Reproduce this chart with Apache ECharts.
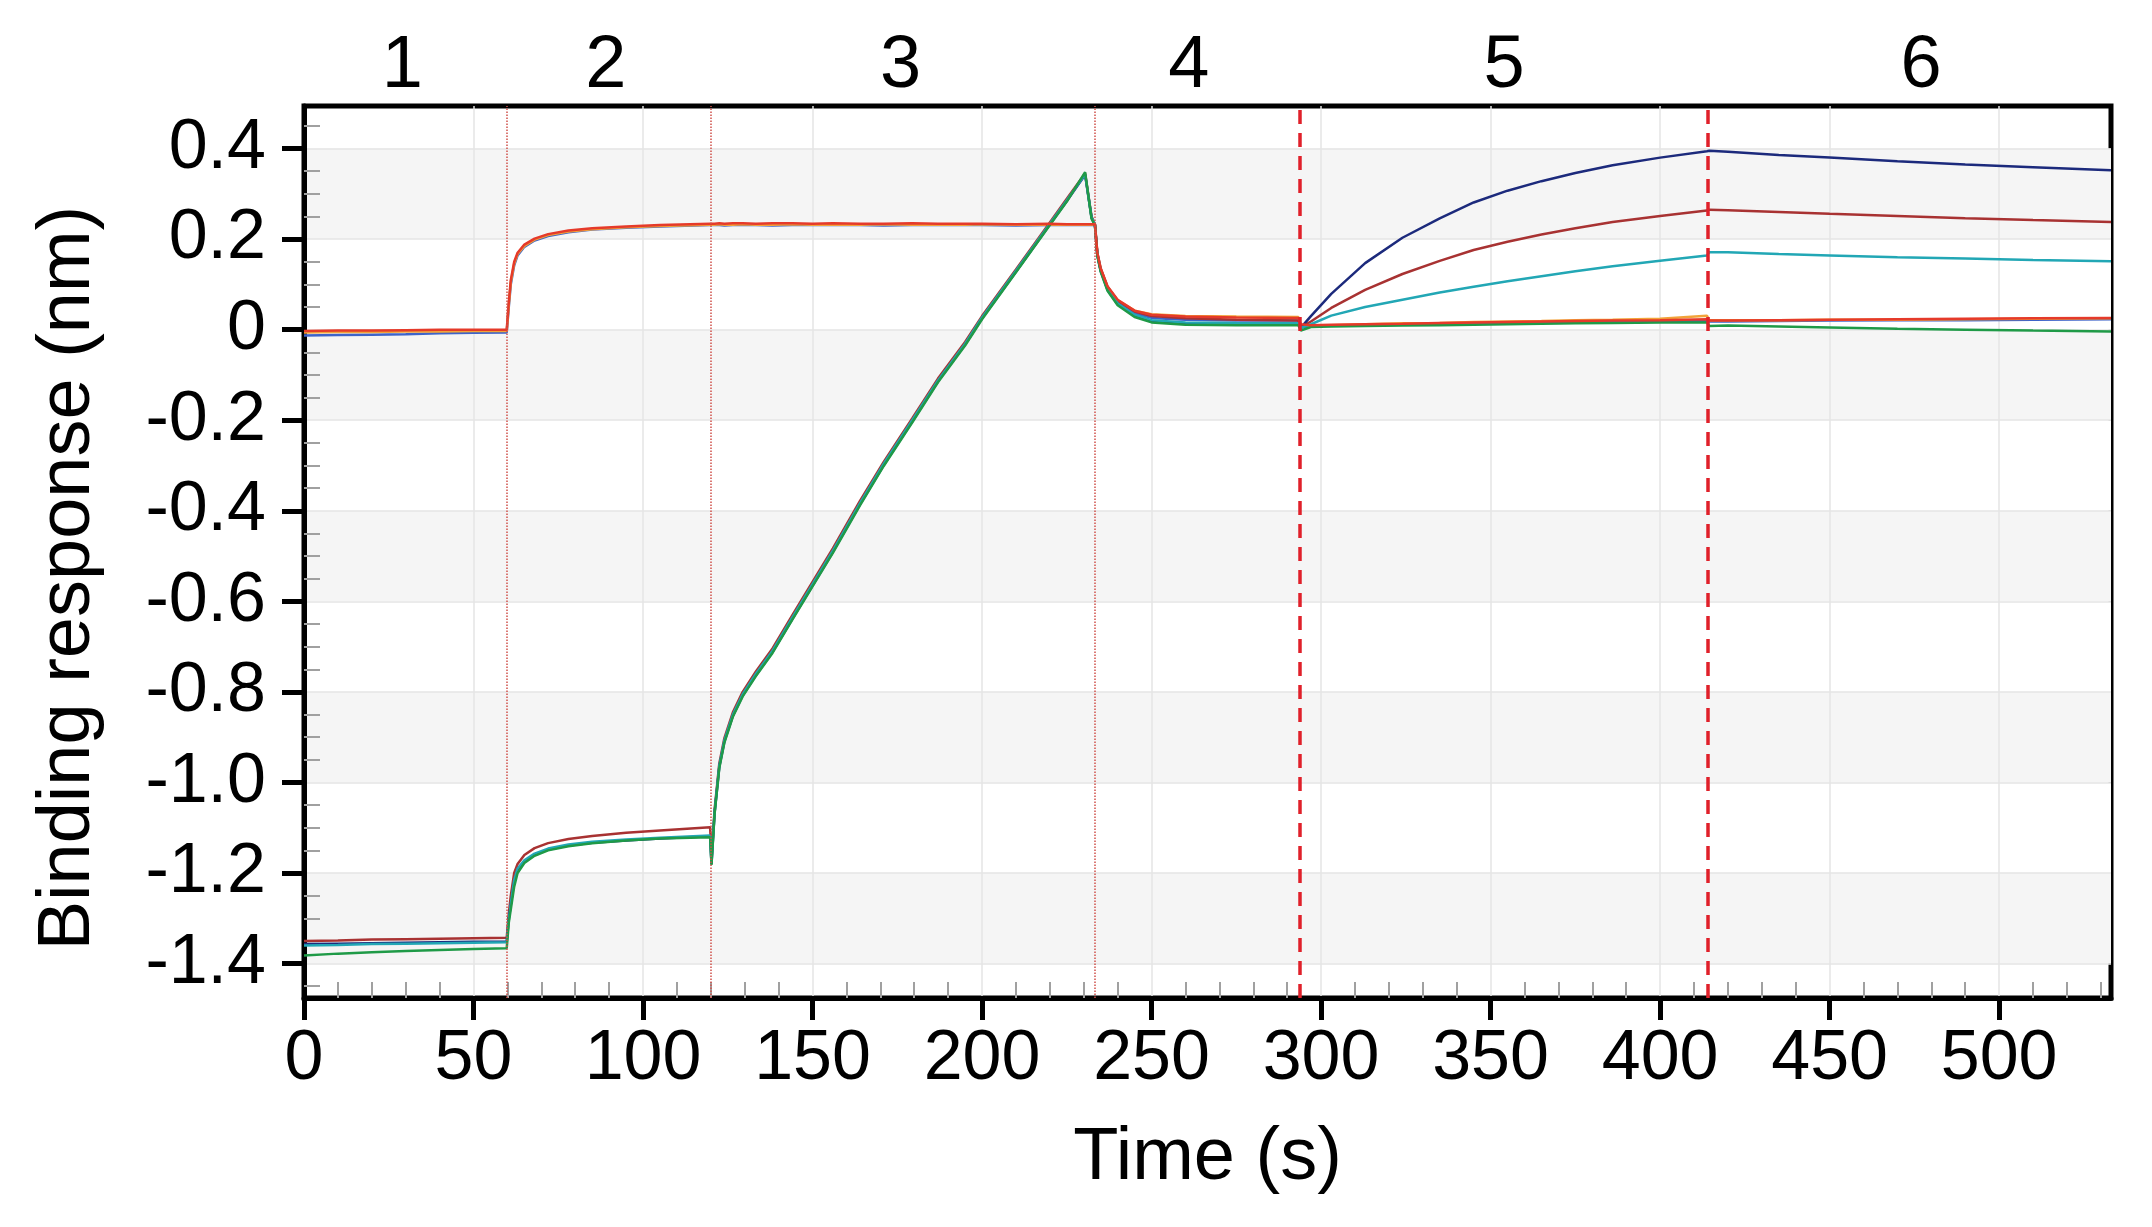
<!DOCTYPE html>
<html>
<head>
<meta charset="utf-8">
<script src="https://cdn.jsdelivr.net/npm/echarts@6/dist/echarts.min.js"></script>
<style>
html,body{margin:0;padding:0;background:#fff;}
#chart{width:2152px;height:1227px;}
</style>
</head>
<body>
<div id="chart"></div>
<script>
// ---------- DATA ----------
const time = [0,10,20,30,40,50,59.8,60.4,61,62,63,65,68,72,78,85,95,105,119.8,
  120.2,121.1,122.5,124,126.5,129.4,133.3,138.2,144.1,150,156,164,171,179.4,187,195,200,210,220,225,230.4,232.3,233.3,
  234,235,237,240,245,250,260,275,293.3,294,
  297,303,313,324,335,345,355,365,375,386,400,413.8,414.5,
  420,435,450,470,490,510,533];

const darkred = [-1.350,-1.349,-1.347,-1.346,-1.345,-1.344,-1.343,
  -1.290,-1.250,-1.200,-1.180,-1.160,-1.145,-1.134,-1.125,-1.118,-1.111,-1.106,-1.099,
  -1.170,-1.060,-0.958,-0.902,-0.845,-0.800,-0.755,-0.704,-0.630,-0.557,-0.483,-0.378,-0.292,-0.196,-0.108,-0.027,0.030,0.133,0.237,0.289,0.345,0.250,0.233,
  0.170,0.135,0.095,0.064,0.040,0.030,0.025,0.022,0.020,0.005,
  0.018,0.048,0.088,0.123,0.152,0.176,0.194,0.210,0.224,0.238,0.251,0.263,0.265,
  0.264,0.260,0.256,0.251,0.246,0.242,0.238];

const navy = [-1.357,-1.356,-1.355,-1.354,-1.353,-1.352,-1.351,
  -1.300,-1.270,-1.220,-1.195,-1.175,-1.160,-1.148,-1.139,-1.133,-1.128,-1.124,-1.119,
  -1.180,-1.068,-0.966,-0.910,-0.853,-0.808,-0.763,-0.712,-0.638,-0.565,-0.491,-0.386,-0.299,-0.203,-0.114,-0.033,0.025,0.128,0.232,0.284,0.342,0.247,0.231,
  0.165,0.130,0.088,0.056,0.030,0.018,0.013,0.011,0.011,0.004,
  0.030,0.079,0.147,0.203,0.246,0.281,0.307,0.328,0.346,0.363,0.380,0.394,0.395,
  0.393,0.386,0.380,0.372,0.365,0.359,0.352];

const teal = [-1.360,-1.359,-1.357,-1.356,-1.355,-1.354,-1.353,
  -1.305,-1.268,-1.215,-1.190,-1.172,-1.157,-1.146,-1.137,-1.131,-1.126,-1.122,-1.117,
  -1.178,-1.066,-0.963,-0.907,-0.850,-0.805,-0.760,-0.709,-0.635,-0.562,-0.488,-0.383,-0.296,-0.200,-0.112,-0.031,0.027,0.130,0.234,0.286,0.343,0.248,0.232,
  0.167,0.132,0.090,0.058,0.033,0.021,0.016,0.015,0.014,0.004,
  0.012,0.031,0.050,0.066,0.082,0.095,0.107,0.118,0.129,0.140,0.152,0.164,0.171,
  0.171,0.167,0.164,0.160,0.157,0.154,0.151];

const green = [-1.382,-1.378,-1.375,-1.372,-1.370,-1.368,-1.366,
  -1.310,-1.280,-1.230,-1.200,-1.178,-1.162,-1.150,-1.141,-1.134,-1.128,-1.124,-1.121,
  -1.182,-1.070,-0.968,-0.912,-0.855,-0.810,-0.765,-0.714,-0.640,-0.567,-0.493,-0.388,-0.301,-0.205,-0.116,-0.035,0.023,0.127,0.231,0.283,0.348,0.245,0.230,
  0.163,0.128,0.086,0.054,0.028,0.016,0.011,0.010,0.010,-0.002,
  0.006,0.007,0.008,0.009,0.010,0.011,0.012,0.013,0.014,0.015,0.016,0.016,0.008,
  0.009,0.007,0.005,0.002,0.000,-0.002,-0.004];

const red = [-0.003,-0.002,-0.002,-0.001,0.000,0.000,0.000,
  0.060,0.110,0.150,0.170,0.188,0.201,0.211,0.219,0.224,0.228,0.231,0.234,
  0.234,0.234,0.235,0.234,0.235,0.235,0.234,0.235,0.235,0.234,0.235,0.234,0.234,0.235,0.234,0.234,0.234,0.233,0.234,0.233,0.233,0.233,0.233,
  0.170,0.135,0.096,0.066,0.042,0.033,0.029,0.027,0.026,0.012,
  0.010,0.011,0.012,0.013,0.015,0.016,0.017,0.018,0.019,0.020,0.021,0.023,0.020,
  0.020,0.021,0.022,0.023,0.024,0.025,0.026];

const orange = [-0.006,-0.005,-0.005,-0.004,-0.004,-0.003,-0.003,
  0.055,0.105,0.146,0.167,0.185,0.199,0.209,0.217,0.222,0.226,0.229,0.232,
  0.232,0.232,0.233,0.232,0.232,0.233,0.232,0.232,0.233,0.232,0.232,0.232,0.233,0.232,0.232,0.232,0.233,0.232,0.232,0.232,0.232,0.232,0.232,
  0.168,0.133,0.094,0.065,0.042,0.034,0.030,0.029,0.028,0.010,
  0.009,0.010,0.012,0.014,0.015,0.017,0.018,0.019,0.021,0.022,0.024,0.031,0.021,
  0.021,0.021,0.022,0.022,0.023,0.024,0.025];

const blue = [-0.013,-0.012,-0.011,-0.010,-0.008,-0.007,-0.006,
  0.050,0.100,0.142,0.164,0.183,0.197,0.207,0.215,0.221,0.225,0.228,0.231,
  0.231,0.231,0.231,0.230,0.231,0.231,0.231,0.230,0.231,0.231,0.231,0.231,0.230,0.231,0.231,0.231,0.231,0.230,0.231,0.231,0.231,0.231,0.231,
  0.165,0.130,0.090,0.060,0.036,0.026,0.022,0.020,0.020,0.004,
  0.008,0.009,0.010,0.011,0.012,0.014,0.015,0.016,0.017,0.018,0.019,0.020,0.018,
  0.018,0.019,0.020,0.021,0.021,0.022,0.023];

const xTickValues = [0,50,100,150,200,250,300,350,400,450,500];
const yTickValues = [-1.4,-1.2,-1.0,-0.8,-0.6,-0.4,-0.2,0,0.2,0.4];
const yTickLabels = ['-1.4','-1.2','-1.0','-0.8','-0.6','-0.4','-0.2','0','0.2','0.4'];
const phaseCenters = [29,89,176,261,354,477];
const phaseLabels = ['1','2','3','4','5','6'];
const phaseBoundaries = [59.8,120,233.3,293.8,414];

// ---------- CHART ----------
const FONT = '"Liberation Sans", Arial, sans-serif';
const xMinor = [];
for (let v = 10; v <= 530; v += 10) { if (v % 50 !== 0) xMinor.push(v); }
const yMinor = [];
for (let k = -29; k <= 9; k++) { if (k % 4 !== 0) yMinor.push(+(k * 0.05).toFixed(2)); }

const traces = [
  {name:'blue', data: blue, color:'#3d63c9'},
  {name:'orange', data: orange, color:'#f2a33a'},
  {name:'darkred', data: darkred, color:'#a83232'},
  {name:'navy', data: navy, color:'#1c2a7c'},
  {name:'teal', data: teal, color:'#22a7b5'},
  {name:'green', data: green, color:'#1f9a47'},
  {name:'red', data: red, color:'#e53a2a'}
];

const markLineData = phaseBoundaries.map((x, i) => ({
  xAxis: x,
  lineStyle: i < 3 ? {color:'#d0504a', width:1.5, type:'dotted'} : {color:'#e0202a', width:3.5, type:[14,9]}
}));

const series = traces.map((tr, i) => ({
  type:'line', name: tr.name,
  data: time.map((t, j) => [t, tr.data[j]]),
  showSymbol:false, symbol:'none', silent:true,
  lineStyle:{color: tr.color, width:2.5},
  itemStyle:{color: tr.color},
  z: 3 + i,
  markLine: i === 0 ? {symbol:['none','none'], silent:true, label:{show:false}, data: markLineData, z: 10} : undefined
}));

const chart = echarts.init(document.getElementById('chart'), null, {renderer:'canvas'});
chart.setOption({
  animation:false,
  backgroundColor:'#ffffff',
  textStyle:{fontFamily: FONT},
  grid:{left:304, top:106, right:41, bottom:229, show:true, borderColor:'#000', borderWidth:5, backgroundColor:'transparent', containLabel:false},
  graphic:[{
    type:'text', x:69, y:578, rotation:Math.PI/2, z:100,
    style:{text:'Binding response (nm)', fontSize:74, fontFamily: FONT, fill:'#000', align:'center', verticalAlign:'middle', textAlign:'center', textVerticalAlign:'middle'}
  }],
  xAxis:[
    {type:'value', position:'bottom', min:0, max:533,
     axisLine:{show:true, onZero:false, lineStyle:{color:'#000', width:5}},
     axisTick:{show:true, customValues:xTickValues, length:22, lineStyle:{color:'#000', width:5}},
     axisLabel:{customValues:xTickValues, fontSize:70, color:'#000', fontFamily:FONT, margin:27},
     splitLine:{show:true, lineStyle:{color:'#e4e4e4', width:1.5}},
     name:'Time (s)', nameLocation:'middle', nameGap:124,
     nameTextStyle:{fontSize:74, color:'#000', fontFamily:FONT}},
    {type:'value', position:'bottom', min:0, max:533,
     axisLine:{show:false, onZero:false},
     axisTick:{show:true, inside:true, customValues:xMinor, length:16, lineStyle:{color:'#a0a0a0', width:2}},
     axisLabel:{show:false}, splitLine:{show:false}},
    {type:'value', position:'top', min:0, max:533,
     axisLine:{show:false, onZero:false}, axisTick:{show:false}, splitLine:{show:false},
     axisLabel:{customValues:phaseCenters, fontSize:74, color:'#000', fontFamily:FONT, margin:2,
       formatter: v => { let b = 0; phaseCenters.forEach((c, i) => { if (Math.abs(c - v) < Math.abs(phaseCenters[b] - v)) b = i; }); return phaseLabels[b]; }}}
  ],
  yAxis:[
    {type:'value', position:'left', min:-1.476, max:0.494,
     axisLine:{show:true, onZero:false, lineStyle:{color:'#000', width:5}},
     axisTick:{show:true, customValues:yTickValues, length:22, lineStyle:{color:'#000', width:5}},
     axisLabel:{customValues:yTickValues, fontSize:70, color:'#000', fontFamily:FONT, margin:38,
       formatter: v => { let b = 0; yTickValues.forEach((c, i) => { if (Math.abs(c - v) < Math.abs(yTickValues[b] - v)) b = i; }); return yTickLabels[b]; }},
     splitLine:{show:true, lineStyle:{color:'#e4e4e4', width:1.5}},
     splitArea:{show:true, areaStyle:{color:['#f5f5f5','#ffffff']}}},
    {type:'value', position:'left', min:-1.476, max:0.494,
     axisLine:{show:false, onZero:false},
     axisTick:{show:true, inside:true, customValues:yMinor, length:16, lineStyle:{color:'#a0a0a0', width:2}},
     axisLabel:{show:false}, splitLine:{show:false}}
  ],
  series: series
});
</script>
</body>
</html>
